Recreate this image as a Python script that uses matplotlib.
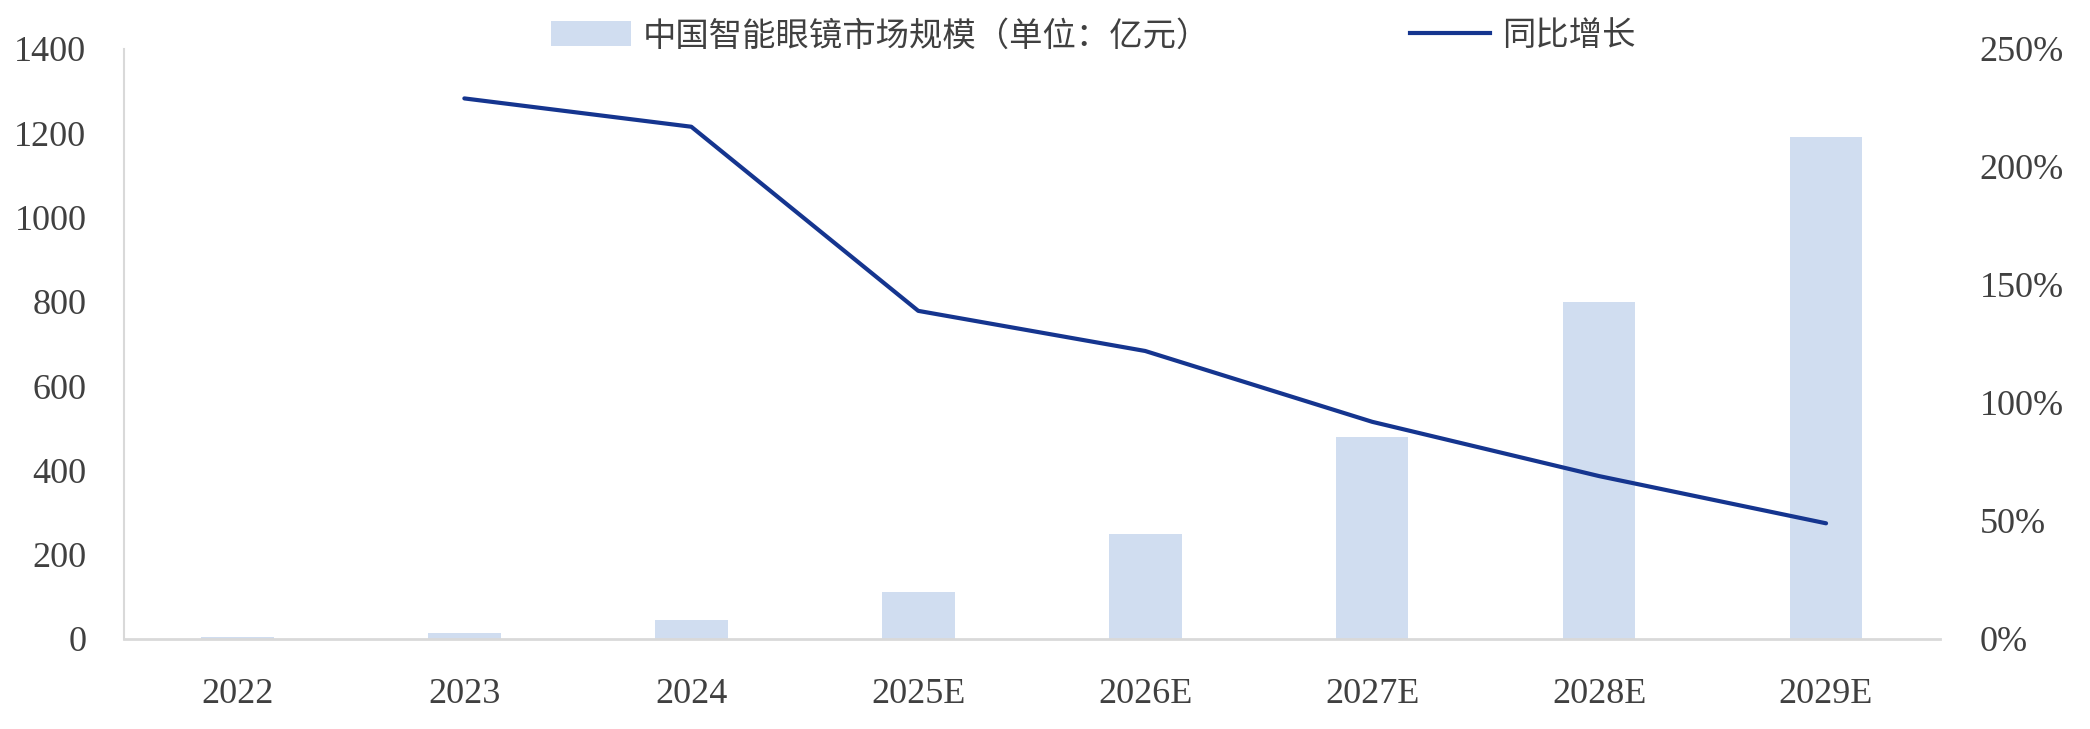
import matplotlib.pyplot as plt
import numpy as np
from matplotlib.patches import Patch
from matplotlib.lines import Line2D

plt.rcParams['font.family'] = ['Liberation Serif', 'Noto Sans CJK SC', 'DejaVu Sans']

years = ['2022', '2023', '2024', '2025E', '2026E', '2027E', '2028E', '2029E']
market = [4, 15, 45, 112, 250, 478, 800, 1190]
growth = [np.nan, 2.29, 2.17, 1.39, 1.22, 0.92, 0.69, 0.49]

bar_color = '#D0DDF0'
line_color = '#15358F'
text_color = '#404040'
spine_color = '#D9D9D9'

fig = plt.figure(figsize=(20.9, 7.29), dpi=100)
ax = fig.add_axes([0.0593, 0.1235, 0.8687, 0.8095])
ax2 = ax.twinx()

x = np.arange(len(years))
ax.bar(x, market, width=0.32, color=bar_color, zorder=2)
ax2.plot(x, growth, color=line_color, lw=3, solid_capstyle='round', zorder=3)

ax.set_xlim(-0.5, len(years) - 0.5)
ax.set_ylim(0, 1400)
ax.set_yticks(range(0, 1401, 200))
ax2.set_ylim(0, 2.5)
ax2.set_yticks(np.arange(0, 2.51, 0.5))
ax2.set_yticklabels([f'{int(round(v * 100))}%' for v in np.arange(0, 2.51, 0.5)])

ax.set_xticks(x)
ax.set_xticklabels(years)

for a in (ax, ax2):
    for s in ('top', 'right'):
        a.spines[s].set_visible(False)
ax2.spines['left'].set_visible(False)
ax2.spines['bottom'].set_visible(False)
ax.spines['left'].set_color(spine_color)
ax.spines['left'].set_linewidth(1.5)
ax.spines['bottom'].set_color(spine_color)
ax.spines['bottom'].set_linewidth(2)

ax.tick_params(axis='y', length=0, pad=27, labelsize=26, labelcolor=text_color)
ax.tick_params(axis='x', length=0, pad=28, labelsize=26, labelcolor=text_color)
ax2.tick_params(axis='y', length=0, pad=29, labelsize=26, labelcolor=text_color)

handles = [Patch(facecolor=bar_color, edgecolor='none'),
           Line2D([0], [0], color=line_color, lw=3)]
labels = ['中国智能眼镜市场规模（单位：亿元）', '同比增长']
leg = fig.legend(handles, labels, loc='center', bbox_to_anchor=(0.523, 0.95), ncol=2,
                 frameon=False, fontsize=24, handlelength=2.4, handleheight=0.75,
                 handletextpad=0.35, columnspacing=6.0, labelcolor=text_color)

fig.savefig('out.png', dpi=100)
